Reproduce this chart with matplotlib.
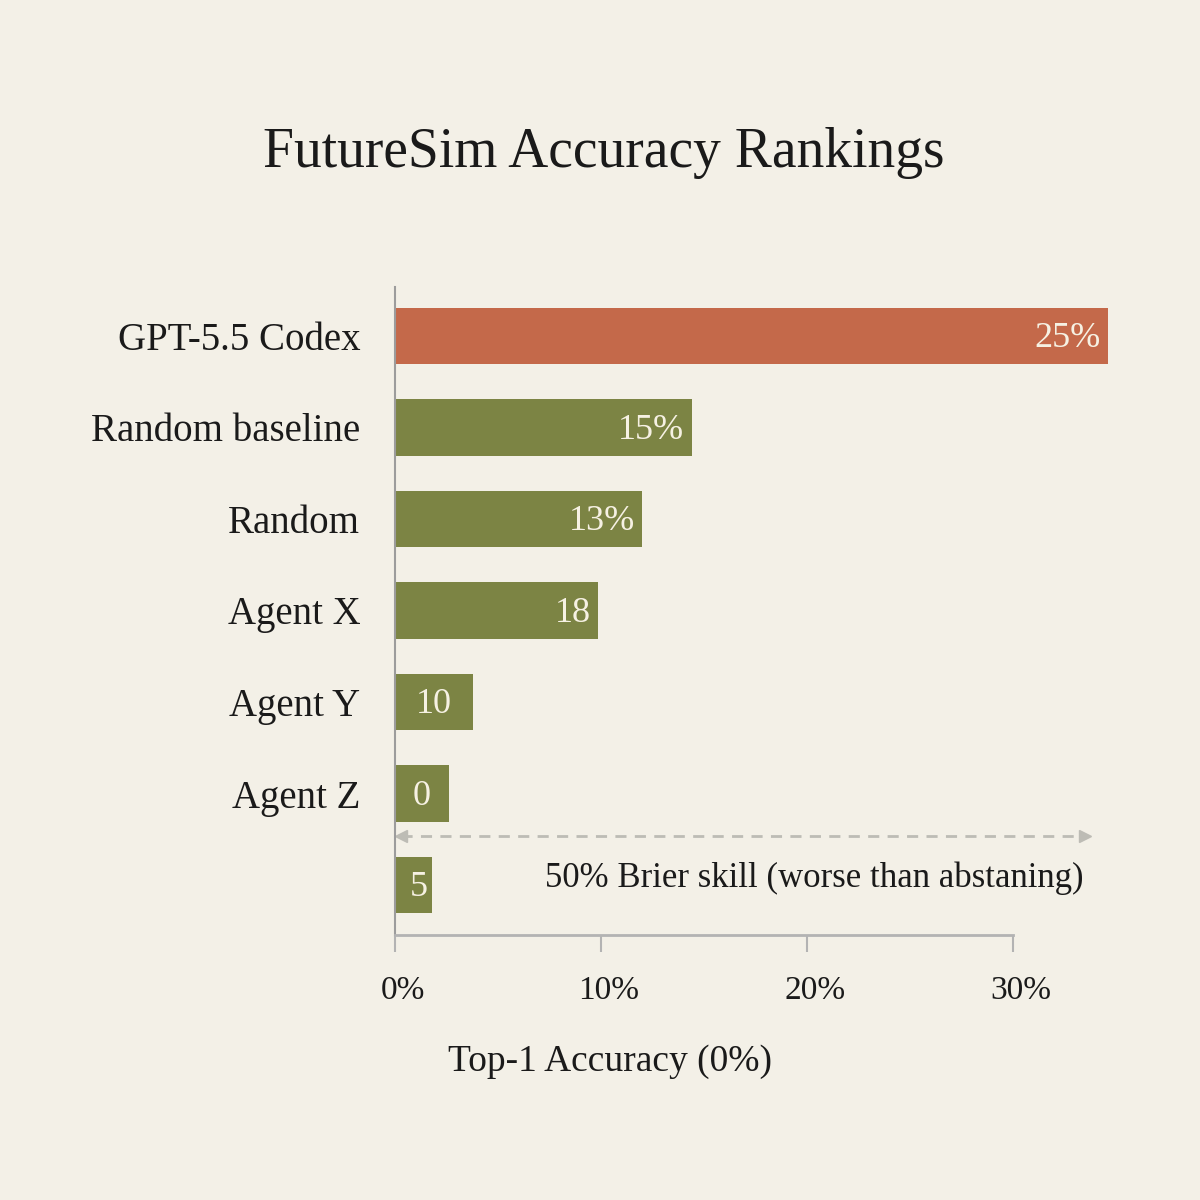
import matplotlib; matplotlib.use("Agg")
import matplotlib.pyplot as plt
from matplotlib.transforms import ScaledTranslation

# data (bar lengths in % accuracy, printed labels as shown)
models = ["GPT-5.5 Codex", "Random baseline", "Random", "Agent X", "Agent Y", "Agent Z", ""]
accuracy = [34.6, 14.4, 12.0, 9.85, 3.8, 2.6, 1.8]
bar_labels = ["25%", "15%", "13%", "18", "10", "0", "5"]
xticks = [0, 10, 20, 30]
xtick_labels = ["0%", "10%", "20%", "30%"]
brier_x = 33.5
brier_text = "50% Brier skill (worse than abstaning)"

bg = "#f3f0e7"
orange = "#c4694a"
olive = "#7c8444"
cream = "#f6f1e3"
ink = "#1a1a1a"
plt.rcParams["font.family"] = ["Liberation Serif", "DejaVu Serif"]

fig = plt.figure(figsize=(12, 12), dpi=100, facecolor=bg)
# axes placed in pixels: x 395..(395+36*20.6), y 287..935
x0, y0, y1 = 395, 287, 935
px = 20.6
ax = fig.add_axes([x0/1200, 1-y1/1200, 36*px/1200, (y1-y0)/1200])
ax.set_facecolor(bg)

colors = [orange] + [olive]*(len(models)-1)
ypos = list(range(len(models)))
ax.barh(ypos, accuracy, height=0.62, color=colors, zorder=2)
ax.set_xlim(0, 36)
ax.set_ylim(len(models)-1+0.546, -0.535)

for i, (v, lab) in enumerate(zip(accuracy, bar_labels)):
    if v > 6:
        ax.text(v-0.35, i+0.03, lab, ha="right", va="center", color=cream, fontsize=26, zorder=3)
    else:
        ax.text(max(v/2, 1.15), i+0.03, lab, ha="center", va="center", color=cream, fontsize=26, zorder=3)

# dashed double-headed reference line
ya = 5.46
ax.plot([0.3, brier_x-0.4], [ya, ya], ls=(0, (4, 3)), color="#bdbcb5", lw=2, zorder=1)
ax.plot([0.3], [ya], marker="<", ms=9, color="#bdbcb5", zorder=1)
ax.plot([brier_x], [ya], marker=">", ms=9, color="#bdbcb5", zorder=1)
ax.text(33.4, 5.93, brier_text, ha="right", va="center", fontsize=25, color=ink)

ax.set_yticks(ypos)
ax.set_yticklabels(models, fontsize=28, color=ink)
ax.tick_params(axis="y", length=0, pad=25)
ax.set_xticks(xticks)
ax.set_xticklabels(xtick_labels, fontsize=24, color=ink)
ax.tick_params(axis="x", length=12, width=1.5, color="#b3b3b3", pad=17)
shift = ScaledTranslation(8/100, 0, fig.dpi_scale_trans)
for t in ax.get_xticklabels():
    t.set_transform(t.get_transform() + shift)
for s in ["top", "right"]:
    ax.spines[s].set_visible(False)
ax.spines["left"].set_color("#9c9c9c")
ax.spines["left"].set_linewidth(1.5)
ax.spines["bottom"].set_color("#b3b3b3")
ax.spines["bottom"].set_linewidth(2)
ax.spines["bottom"].set_bounds(0, 30)

fig.text(610/1200, 1-1062/1200, "Top-1 Accuracy (0%)", ha="center", va="center",
         fontsize=27, color=ink)
fig.text(604/1200, 1-153/1200, "FutureSim Accuracy Rankings", ha="center", va="center",
         fontsize=40, color=ink)

fig.savefig("out.png", dpi=100, facecolor=bg)
